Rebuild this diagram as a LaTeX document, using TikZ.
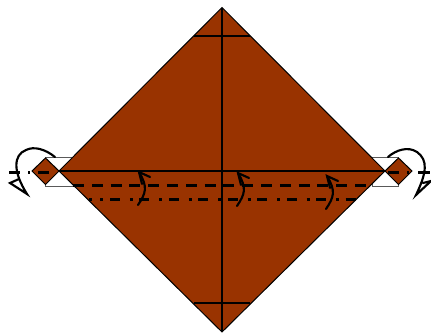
\documentclass[tikz,border=0pt]{standalone}
\definecolor{paper}{HTML}{993300}
\tikzset{
  fold/.style={fill=paper,draw=black,line width=0.75pt},
  crease/.style={black,line width=0.8pt},
  flap/.style={draw=black!65,fill=white,line width=0.75pt},
  valley/.style={black,line width=2.25pt,dash pattern=on 8.25pt off 5.85pt},
  mountain/.style={black,line width=2.25pt,dash pattern=on 7.5pt off 7.35pt on 2.25pt off 5pt},
  dotrun/.style={black,line width=2.25pt},
  curl/.style={black,line width=1.6pt,line cap=round,line join=miter},
}
\newcommand{\smallarrow}[2]{
  \draw[curl,shift={(#1,#2)}] (138,205) .. controls (146,193) and (148,187) .. (139,172);
  \draw[curl,shift={(#1,#2)}] (150,177) -- (139,172) -- (142,184);
}
\begin{document}
\begin{tikzpicture}[x=0.75pt,y=-0.75pt]
\useasboundingbox (0,0) rectangle (431,332);
\draw[flap] (45,157) rectangle (73,186);
\draw[flap] (372,157) rectangle (398,186);
\draw[fold] (222,7.5) -- (385,171) -- (222,332) -- (59,171) -- cycle;
\draw[fold] (45.5,158) -- (59,171) -- (45.5,184.5) -- (32,171) -- cycle;
\draw[fold] (398.5,158) -- (412,171) -- (398.5,184.5) -- (385,171) -- cycle;
\draw[crease] (59,171) -- (385,171);
\draw[crease] (222,7.5) -- (222,332);
\draw[crease] (194,36) -- (250,36);
\draw[crease] (194,303) -- (250,303);
\draw[valley] (73,185.5) -- (372,185.5);
\draw[mountain] (110,199.5) -- (356,199.5);
\draw[dotrun] (89,199.5) -- (92,199.5);
\draw[dotrun] (100,199.5) -- (103,199.5);
\draw[dotrun] (9,172) -- (20,172);
\draw[dotrun] (28,172) -- (30,172);
\draw[dotrun] (38,172) -- (49,172);
\draw[dotrun] (388,172) -- (399,172);
\draw[dotrun] (407,172) -- (409,172);
\draw[dotrun] (418,172) -- (430,172);
\draw[curl] (55,157) .. controls (45,149) and (34,146) .. (26,150) .. controls (13,155) and (13,172) .. (27,194) -- (10,183) -- (19,179);
\draw[curl] (388,157) .. controls (396,150) and (408,146) .. (417,152) .. controls (428,160) and (427,172) .. (416,195) -- (431,181) -- (423,183);
\smallarrow{0}{0}
\smallarrow{99}{1}
\smallarrow{188}{4}
\end{tikzpicture}
\end{document}
